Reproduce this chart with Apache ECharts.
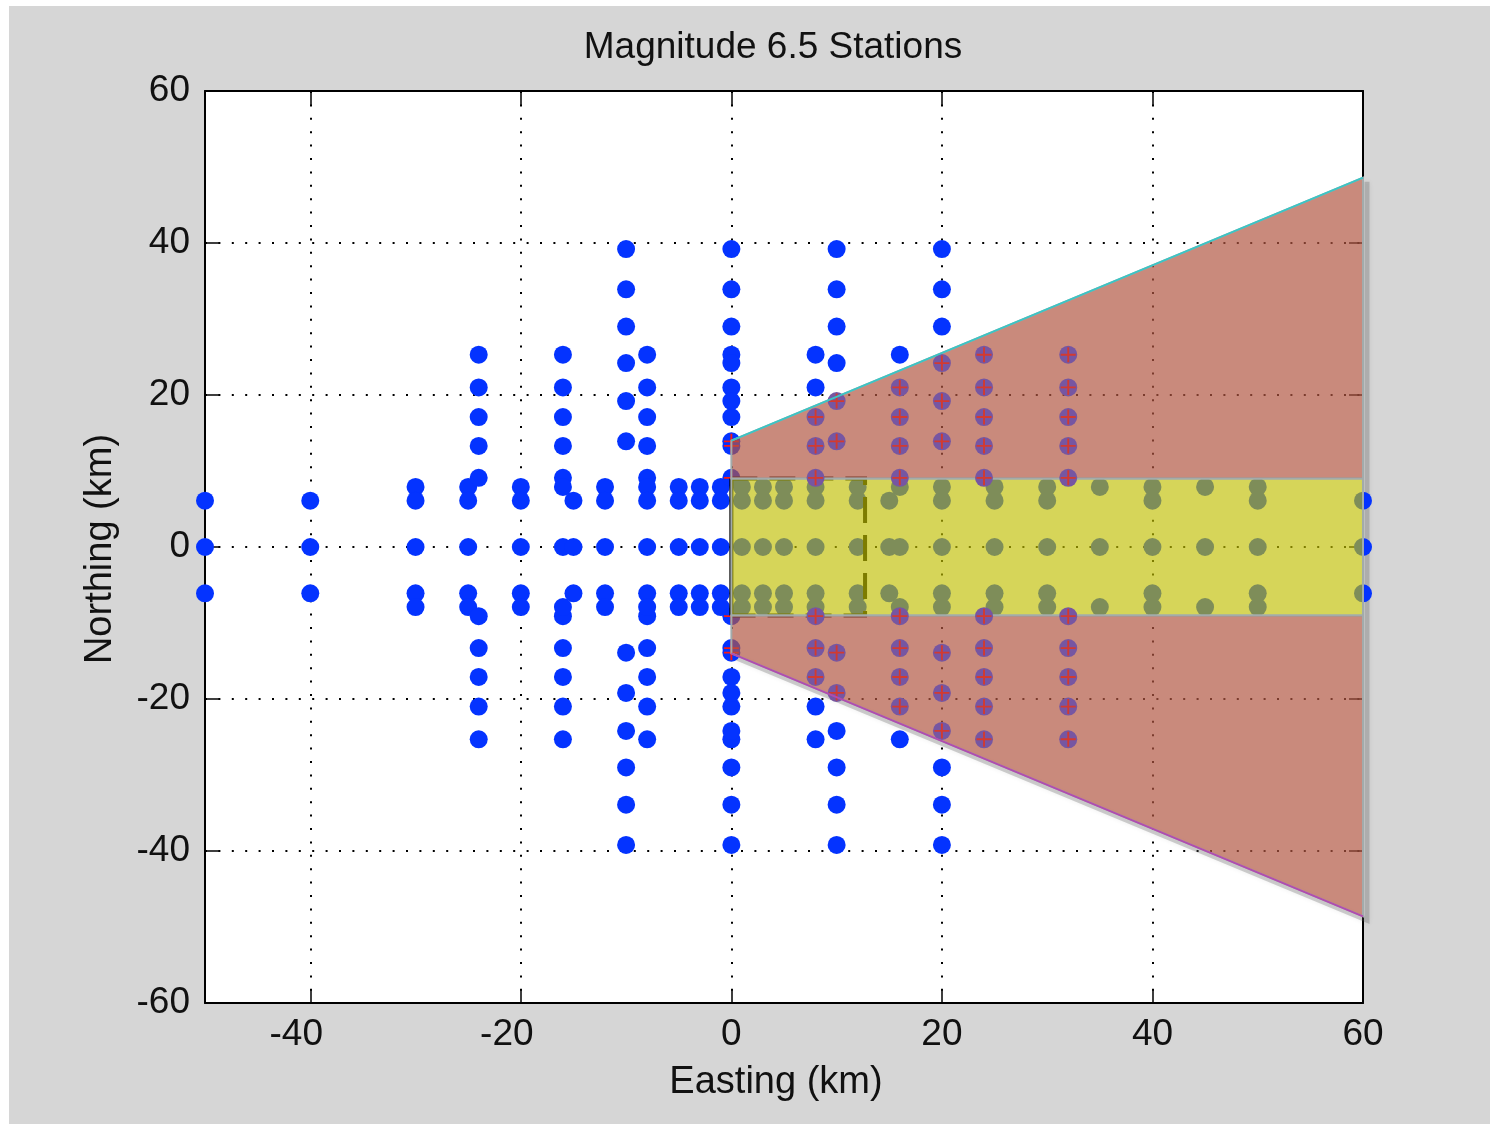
<!DOCTYPE html>
<html>
<head>
<meta charset="utf-8">
<script src="https://cdn.jsdelivr.net/npm/echarts@6/dist/echarts.min.js"></script>
<style>
  html, body { margin: 0; padding: 0; background: #ffffff; }
  #frame { position: absolute; left: 9px; top: 6px; width: 1481px; height: 1118px; background: #d6d6d6; }
  #chart { position: absolute; left: 0; top: 0; width: 1490px; height: 1126px; }
</style>
</head>
<body>
<div id="frame"></div>
<div id="chart"></div>
<script>
// Northing groups (km) shared by several station columns
const ringInner = [25.3, 21, 17.1, 13.3, 9.1, -9.1, -13.3, -17.1, -21, -25.3];
const ringOuter = [39.2, 33.9, 29, 24.2, 19.2, 13.9, -13.9, -19.2, -24.2, -29, -33.9, -39.2];
const rowsFive = [7.9, 6.1, 0, -6.1, -7.9];
const rowsNear = [6.1, 0, -6.1];
const rowsFar = [7.9, 0, -7.9];

// Station columns: easting (km) and the northings on each column
const columnEasting = [-50, -40, -30, -25, -24, -20, -16, -15, -12, -10, -8, -5, -3, -1,
                       0, 1, 3, 5, 8, 10, 12, 15, 16, 20, 24, 25, 30, 32, 35, 40, 45, 50, 60];
const columnNorthing = [
  rowsNear, rowsNear, rowsFive, rowsFive, ringInner, rowsFive,
  ringInner.concat(rowsFar), rowsNear, rowsFive, ringOuter,
  ringInner.concat(rowsFive), rowsFive, rowsFive, rowsFive,
  ringInner.concat(ringOuter), rowsFive, rowsFive, rowsFive,
  ringInner.concat(rowsFive), ringOuter, rowsFive, rowsNear,
  ringInner.concat(rowsFar), ringOuter.concat(rowsFive), ringInner, rowsFive,
  rowsFive, ringInner, rowsFar, rowsFive, rowsFar, rowsFive, rowsNear
];

// Axis ticks
const eastTicks = [-40, -20, 0, 20, 40, 60];
const northTicks = [-60, -40, -20, 0, 20, 40, 60];

// Rupture zone outlines (km)
const zoneCore = [[0, -9], [0, 9], [60, 9], [60, -9]];
const zoneNorth = [[0, 9], [0, 14], [60, 48.6], [60, 9]];
const zoneSouth = [[0, -9], [0, -14], [60, -48.6], [60, -9]];
const faultBox = [[0, 9], [12.7, 9], [12.7, -9], [0, -9]];
const faultTrace = [[0, 9], [0, -9]];

const FONT = '"Liberation Sans", Arial, Helvetica, sans-serif';
const PLUS = 'path://M0,7H16V9H0Z M7,0H9V16H7Z';

const stations = [];
columnEasting.forEach((e, i) => columnNorthing[i].forEach(n => stations.push([e, n])));

// stations that fall inside the flaring north/south lobes
function inLobe(p, lobe) {
  const x0 = lobe[1][0], x1 = lobe[2][0];
  const inner = Math.abs(lobe[0][1]);
  const a = Math.abs(lobe[1][1]), b = Math.abs(lobe[2][1]);
  if (p[0] < x0 - 0.1 || p[0] > x1) return false;
  const edge = a + (b - a) * (p[0] - x0) / (x1 - x0);
  const y = Math.abs(p[1]);
  return Math.sign(p[1]) === Math.sign(lobe[1][1]) && y > inner && y <= edge + 0.5;
}
const isLobe = p => inLobe(p, zoneNorth) || inLobe(p, zoneSouth);
// stations on the lobe's west edge are only half covered, keep them under the shading
const lobeEdge = stations.filter(p => isLobe(p) && p[0] <= zoneNorth[0][0]);
const lobeInside = stations.filter(p => isLobe(p) && p[0] > zoneNorth[0][0]);
const plainStations = stations.filter(p => !lobeInside.includes(p));

const chart = echarts.init(document.getElementById('chart'), null, { renderer: 'canvas' });

function polySeries(name, pts, style, z, closed) {
  return {
    type: 'custom', name: name, z: z, silent: true, clip: false,
    data: [pts[0]],
    renderItem: function (params, api) {
      const pix = pts.map(p => api.coord(p));
      return {
        type: closed ? 'polygon' : 'polyline',
        shape: { points: pix },
        style: style
      };
    }
  };
}

function shadowSeries() {
  const pts = [[zoneNorth[2][0], zoneNorth[2][1]], [zoneSouth[2][0], zoneSouth[2][1]], [zoneSouth[1][0], zoneSouth[1][1]]];
  return {
    type: 'custom', name: 'shadow', z: 1, silent: true, clip: false,
    data: [pts[0]],
    renderItem: function (params, api) {
      const pix = pts.map(p => { const c = api.coord(p); return [c[0] + 4, c[1] + 4]; });
      return {
        type: 'polyline',
        shape: { points: pix },
        style: { stroke: 'rgba(90,90,90,0.28)', lineWidth: 5, fill: null,
                 shadowBlur: 5, shadowColor: 'rgba(0,0,0,0.25)' }
      };
    }
  };
}

const axisLineStyle = { show: true, onZero: false, lineStyle: { color: '#000', width: 2 } };
const tickStyle = { color: '#000', width: 1.5 };
const gridDots = { show: true, lineStyle: { color: '#000', width: 2, type: [2, 11.4] } };

chart.setOption({
  backgroundColor: 'transparent',
  animation: false,
  grid: { left: 205, top: 91, width: 1158, height: 912, show: true, backgroundColor: '#ffffff', borderWidth: 0 },
  xAxis: [
    {
      type: 'value', min: -50, max: 60, position: 'bottom',
      axisLine: axisLineStyle,
      axisTick: { show: true, inside: true, length: 14, customValues: eastTicks, lineStyle: tickStyle },
      axisLabel: {
        customValues: eastTicks, margin: 13, color: '#111', fontSize: 37, fontFamily: FONT,
        formatter: v => v < 0 ? '{neg|' + v + '}' : String(v),
        rich: { neg: { padding: [0, 28, 0, 0], color: '#111', fontSize: 37, fontFamily: FONT } }
      },
      splitLine: gridDots
    },
    {
      type: 'value', min: -50, max: 60, position: 'top',
      axisLine: axisLineStyle,
      axisTick: { show: true, inside: true, length: 14, customValues: eastTicks, lineStyle: tickStyle },
      axisLabel: { show: false },
      splitLine: { show: false }
    }
  ],
  yAxis: [
    {
      type: 'value', min: -60, max: 60, interval: 20, position: 'left',
      axisLine: axisLineStyle,
      axisTick: { show: true, inside: true, length: 14, customValues: northTicks, lineStyle: tickStyle },
      axisLabel: { customValues: northTicks, margin: 15, color: '#111', fontSize: 37, fontFamily: FONT },
      splitLine: gridDots
    },
    {
      type: 'value', min: -60, max: 60, interval: 20, position: 'right',
      axisLine: axisLineStyle,
      axisTick: { show: true, inside: true, length: 14, customValues: northTicks, lineStyle: tickStyle },
      axisLabel: { show: false },
      splitLine: { show: false }
    }
  ],
  graphic: [
    { type: 'text', x: 773, y: 48, silent: true,
      style: { text: 'Magnitude 6.5 Stations', font: '37px ' + FONT, fill: '#111', textAlign: 'center', textVerticalAlign: 'middle' } },
    { type: 'text', x: 776, y: 1083, silent: true,
      style: { text: 'Easting (km)', font: '38px ' + FONT, fill: '#111', textAlign: 'center', textVerticalAlign: 'middle' } },
    { type: 'text', x: 101, y: 549, rotation: Math.PI / 2, silent: true,
      style: { text: 'Northing (km)', font: '38px ' + FONT, fill: '#111', textAlign: 'center', textVerticalAlign: 'middle' } }
  ],
  series: [
    shadowSeries(),
    {
      type: 'scatter', name: 'stations', z: 2, clip: false, silent: true,
      data: plainStations, symbol: 'circle', symbolSize: 18,
      itemStyle: { color: '#0433ff', opacity: 1 }
    },
    {
      type: 'scatter', name: 'lobe edge stations', z: 3, clip: false, silent: true,
      data: lobeEdge, symbol: PLUS, symbolSize: 15,
      itemStyle: { color: '#ff1a10', opacity: 1 }
    },
    polySeries('fault trace', faultTrace, { stroke: '#000', lineWidth: 4, fill: null }, 4, false),
    polySeries('fault', faultBox, { stroke: '#000', lineWidth: 4, fill: null, lineDash: [26, 12] }, 4, false),
    polySeries('core', zoneCore, { fill: 'rgba(192,190,0,0.65)', stroke: '#a2abab', lineWidth: 2 }, 5, true),
    polySeries('north lobe', zoneNorth, { fill: 'rgba(177,86,65,0.69)', stroke: '#a2abab', lineWidth: 2 }, 5, true),
    polySeries('south lobe', zoneSouth, { fill: 'rgba(177,86,65,0.69)', stroke: '#a2abab', lineWidth: 2 }, 5, true),
    {
      type: 'scatter', name: 'lobe stations', z: 6, clip: false, silent: true,
      data: lobeInside, symbol: 'circle', symbolSize: 18,
      itemStyle: { color: '#7656a2', opacity: 1 }
    },
    {
      type: 'scatter', name: 'lobe station marks', z: 7, clip: false, silent: true,
      data: lobeInside, symbol: PLUS, symbolSize: 15,
      itemStyle: { color: '#d23a30', opacity: 1 }
    },
    polySeries('north edge', [zoneNorth[1], zoneNorth[2]], { stroke: '#3cc4c4', lineWidth: 2, fill: null }, 8, false),
    polySeries('south edge', [zoneSouth[1], zoneSouth[2]], { stroke: '#b04cb0', lineWidth: 2, fill: null }, 8, false)
  ]
});
</script>
</body>
</html>
